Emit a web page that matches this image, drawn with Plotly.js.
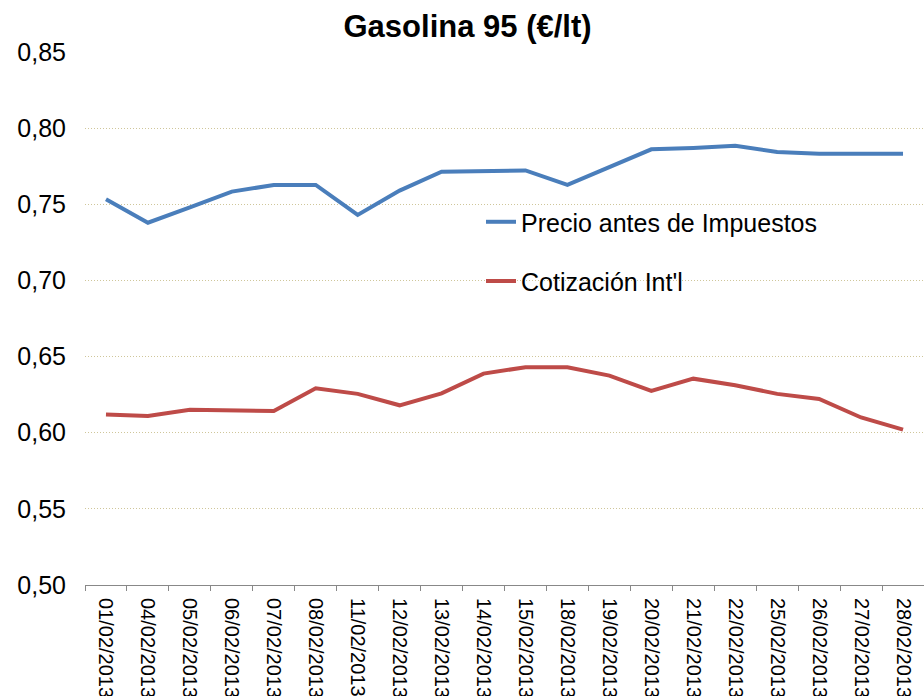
<!DOCTYPE html>
<html>
<head>
<meta charset="utf-8">
<script src="https://cdn.plot.ly/plotly-3.0.1.min.js"></script>
<style>html,body{margin:0;padding:0;background:#fff;}#chart{width:924px;height:696px;}</style>
</head>
<body>
<div id="chart"></div>
<script>
const fechas = ["01/02/2013","04/02/2013","05/02/2013","06/02/2013","07/02/2013","08/02/2013","11/02/2013","12/02/2013","13/02/2013","14/02/2013","15/02/2013","18/02/2013","19/02/2013","20/02/2013","21/02/2013","22/02/2013","25/02/2013","26/02/2013","27/02/2013","28/02/2013"];
const precioAntesImpuestos = [0.7533,0.7379,0.7480,0.7583,0.7627,0.7627,0.7430,0.7590,0.7714,0.7720,0.7722,0.7627,0.7747,0.7861,0.7870,0.7885,0.7843,0.7832,0.7832,0.7832];
const cotizacionIntl = [0.6120,0.6110,0.6150,0.6148,0.6142,0.6292,0.6255,0.6180,0.6258,0.6388,0.6430,0.6430,0.6375,0.6275,0.6355,0.6312,0.6255,0.6222,0.6100,0.6020];
const yTicks = [0.50,0.55,0.60,0.65,0.70,0.75,0.80,0.85];

const FONT = 'Arial, "Liberation Sans", sans-serif';

const traces = [
  {x: fechas, y: precioAntesImpuestos, type: 'scatter', mode: 'lines', name: 'Precio antes de Impuestos',
   line: {color: '#4a7ebb', width: 4}, legend: 'legend'},
  {x: fechas, y: cotizacionIntl, type: 'scatter', mode: 'lines', name: "Cotización Int'l",
   line: {color: '#be4b48', width: 4}, legend: 'legend2'}
];

const legendCommon = {
  font: {family: FONT, size: 25, color: '#000'},
  bgcolor: 'rgba(0,0,0,0)', borderwidth: 0,
  xanchor: 'left', yanchor: 'middle', itemwidth: 30
};

const layout = {
  width: 924, height: 696,
  margin: {l: 85, r: 0, t: 52, b: 111, pad: 0},
  paper_bgcolor: '#fff', plot_bgcolor: '#fff',
  separators: ',.',
  font: {family: FONT, color: '#000'},
  title: {text: '<b>Gasolina 95 (€/lt)</b>', font: {family: FONT, size: 31, color: '#000'},
          x: 0.506, xanchor: 'center', xref: 'container', y: 0.962, yanchor: 'middle', yref: 'container'},
  xaxis: {type: 'category', range: [-0.5, 19.5], showgrid: false, zeroline: false,
          showline: true, linecolor: '#888', linewidth: 1,
          ticks: 'outside', ticklen: 5, tickcolor: '#888', tickson: 'boundaries',
          tickangle: 90, tickfont: {family: FONT, size: 20, color: '#000'}, ticklabelstandoff: 8, fixedrange: true},
  yaxis: {range: [0.5, 0.85], tickvals: yTicks, tickformat: '.2f', showgrid: true,
          gridcolor: '#cfc69a', griddash: '1px,2px', gridwidth: 1, zeroline: false, showline: false,
          ticks: '', tickfont: {family: FONT, size: 25, color: '#000'}, ticklabelstandoff: 18, fixedrange: true},
  showlegend: true,
  legend: Object.assign({}, legendCommon, {x: 0.472, y: 0.681}),
  legend2: Object.assign({}, legendCommon, {x: 0.472, y: 0.570})
};

Plotly.newPlot('chart', traces, layout, {displayModeBar: false, staticPlot: true});
</script>
</body>
</html>
